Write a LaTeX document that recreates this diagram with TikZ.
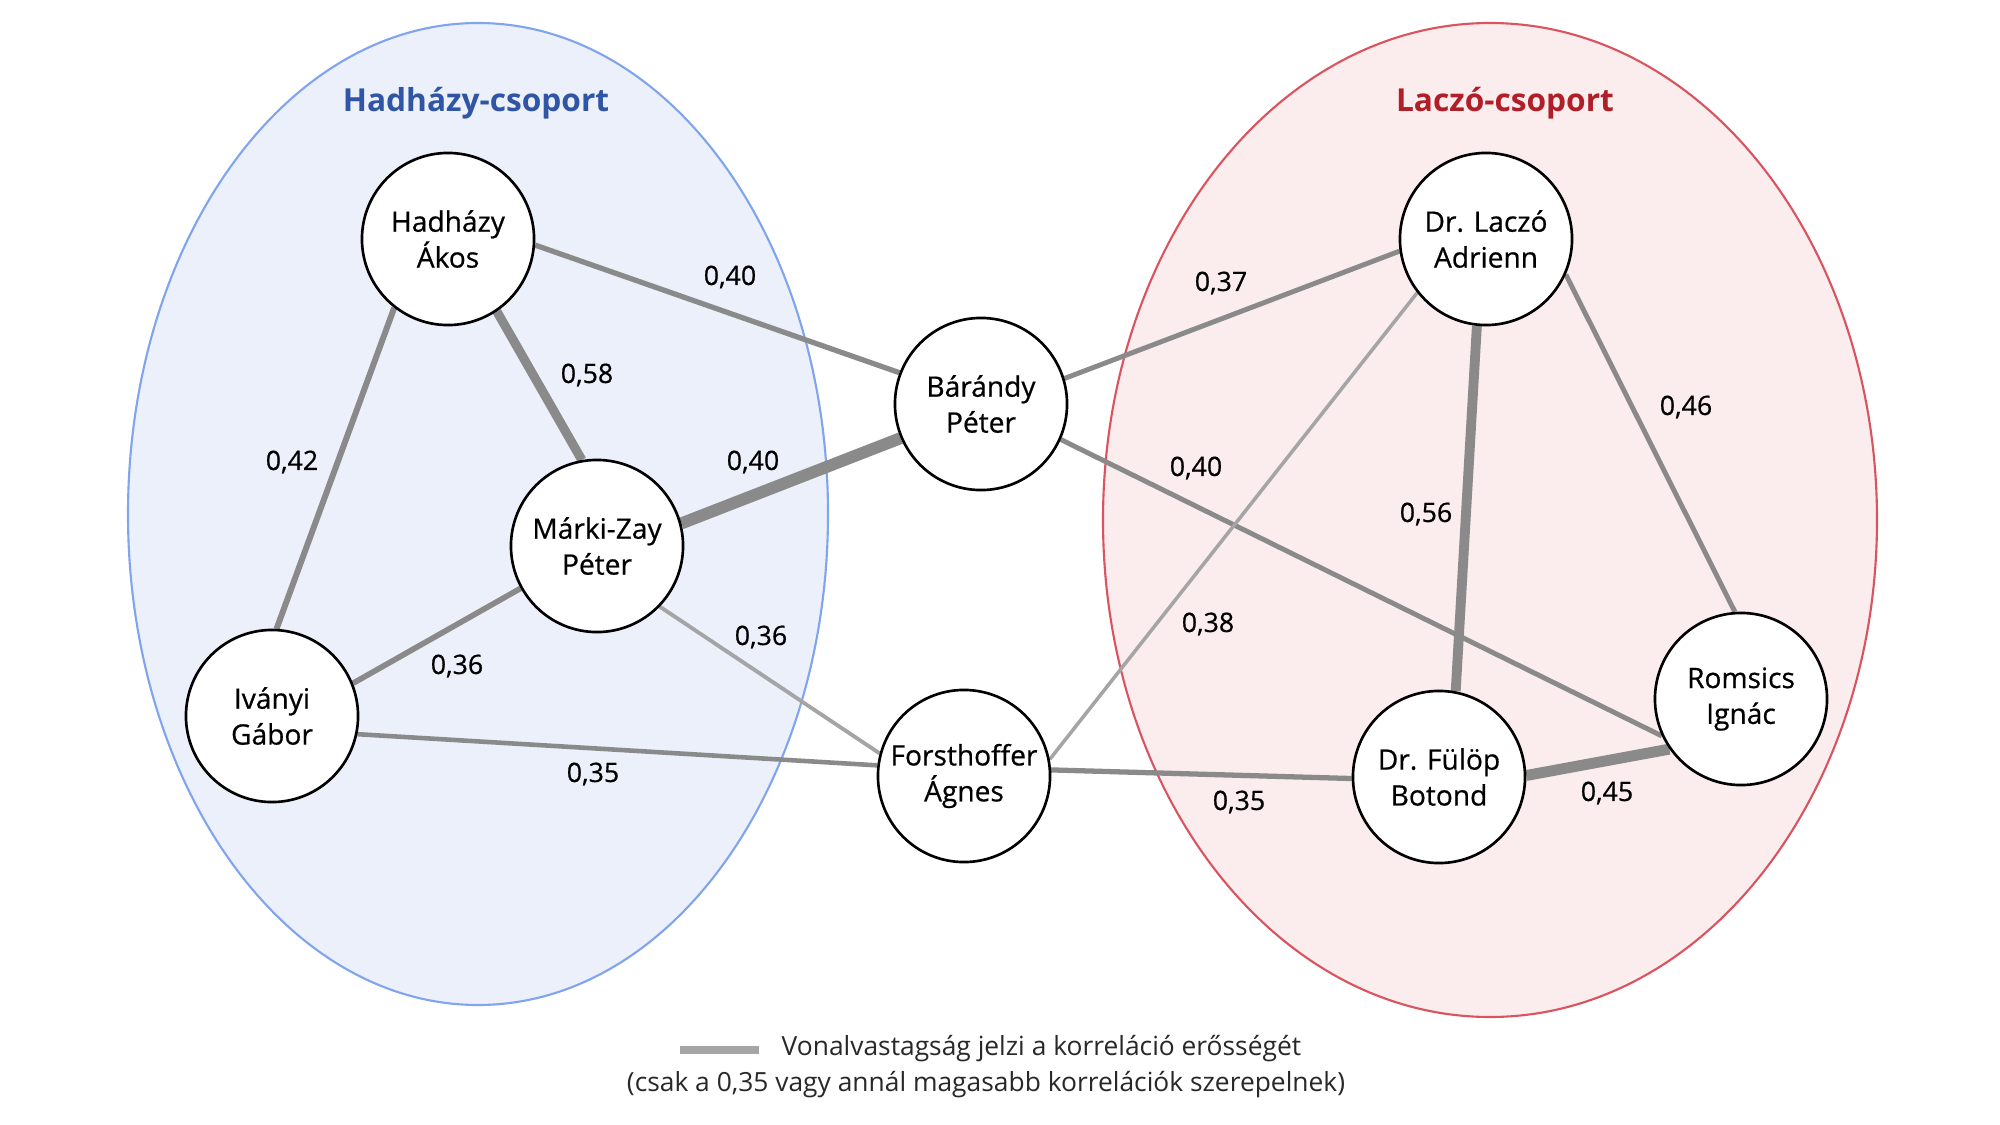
\documentclass[tikz,border=0pt]{standalone}
\usepackage{fontspec}
\setmainfont{Open Sans}
\newfontfamily\medfont[FakeBold=0.6]{Open Sans}
\definecolor{bluefill}{RGB}{235,240,250}
\definecolor{blueline}{RGB}{128,164,238}
\definecolor{redfill}{RGB}{251,236,238}
\definecolor{redline}{RGB}{217,84,94}
\definecolor{bluetitle}{RGB}{47,85,164}
\definecolor{redtitle}{RGB}{176,30,40}
\definecolor{edgecol}{RGB}{138,138,138}
\definecolor{edgelight}{RGB}{165,165,165}
\definecolor{legendtxt}{RGB}{40,40,40}
\pgfdeclarelayer{groups}
\pgfdeclarelayer{links}
\pgfsetlayers{groups,links,main}
\tikzset{
  person/.style={circle, draw=black, line width=0.75pt, fill=white, minimum size=1.72cm, inner sep=0pt,
    align=center, font=\medfont\fontsize{8}{10.2}\selectfont},
  edge/.style={draw=edgecol, line width=#1},
  ledge/.style={draw=edgelight, line width=#1},
  wlabel/.style={font=\medfont\fontsize{7.6}{9}\selectfont, text=black},
  grouptitle/.style={font=\fontsize{9}{11}\selectfont\bfseries},
  legendtext/.style={text=legendtxt, font=\fontsize{7.5}{9}\selectfont, inner sep=0pt}
}
\begin{document}
\begin{tikzpicture}[x=0.01cm, y=-0.01cm]
\useasboundingbox (0,0) rectangle (2000,1124);
% persons
\node[person] (h)  at (448,239) {Hadházy\\Ákos};
\node[person] (mz) at (597,546) {Márki-Zay\\Péter};
\node[person] (iv) at (272,716) {Iványi\\Gábor};
\node[person] (b)  at (981,404) {Bárándy\\Péter};
\node[person] (fo) at (964,776) {Forsthoffer\\Ágnes};
\node[person] (la) at (1486,239) {Dr. Laczó\\Adrienn};
\node[person] (fu) at (1439,777) {Dr. Fülöp\\Botond};
\node[person] (ro) at (1741,699) {Romsics\\Ignác};
% background and group ellipses
\begin{pgfonlayer}{groups}
\fill[white] (0,0) rectangle (2000,1124);
\path[fill=bluefill, draw=blueline, line width=0.6pt] (478,514) ellipse [x radius=350, y radius=491];
\path[fill=redfill, draw=redline, line width=0.6pt] (1490,520) ellipse [x radius=387, y radius=497];
\end{pgfonlayer}
\node[grouptitle, text=bluetitle] (t1) at (476,103) {Hadházy-csoport};
\node[grouptitle, text=redtitle] (t2) at (1505,103) {Laczó-csoport};
% edges
\begin{pgfonlayer}{links}
\draw[edge=1.5pt] (h.-4) -- (b.159);
\draw[edge=2.6pt] (h.-56) -- (mz.100);
\draw[edge=1.7pt] (h.-128) -- (iv.87);
\draw[edge=3.4pt] (mz.15) -- (b.203);
\draw[edge=1.6pt] (iv.22) -- (mz.209);
\draw[ledge=1.1pt] (mz.-44) -- (fo.165);
\draw[edge=1.3pt] (iv.-12) -- (fo.173);
\draw[edge=1.4pt] (b.17) -- (la.188);
\draw[edge=1.4pt] (b.-24) -- (ro.205);
\draw[ledge=1.0pt] (fo.11) -- (la.218);
\draw[edge=2.8pt] (la.-96) -- (fu.79);
\draw[edge=1.4pt] (la.-24) -- (ro.94);
\draw[edge=1.5pt] (fo.4) -- (fu.181);
\draw[edge=3.1pt] (fu.1) -- (ro.215);
\end{pgfonlayer}
% labels
\node[wlabel] (l1) at (730,277) {0,40};
\node[wlabel] (l2) at (587,375) {0,58};
\node[wlabel] (l3) at (292,462) {0,42};
\node[wlabel] (l4) at (753,462) {0,40};
\node[wlabel] (l5) at (457,666) {0,36};
\node[wlabel] (l6) at (761,637) {0,36};
\node[wlabel] (l7) at (593,774) {0,35};
\node[wlabel] (l8) at (1221,283) {0,37};
\node[wlabel] (l9) at (1196,468) {0,40};
\node[wlabel] (l10) at (1426,514) {0,56};
\node[wlabel] (l11) at (1208,624) {0,38};
\node[wlabel] (l12) at (1686,407) {0,46};
\node[wlabel] (l13) at (1239,802) {0,35};
\node[wlabel] (l14) at (1607,793) {0,45};
% legend
\coordinate (lg1) at (680,1050);
\coordinate (lg2) at (759,1050);
\draw[draw=edgelight, line width=2.4pt] (lg1) -- (lg2);
\node[legendtext, anchor=west] (lt1) at (781,1049) {Vonalvastagság jelzi a korreláció erősségét};
\node[legendtext] (lt2) at (986,1085) {(csak a 0,35 vagy annál magasabb korrelációk szerepelnek)};
\end{tikzpicture}
\end{document}
